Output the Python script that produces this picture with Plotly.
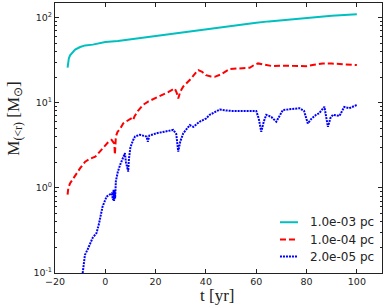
import plotly.graph_objects as go

t_c = [-15, -14.8, -14.5, -14, -13, -12, -10, -8, -5, -2, 0, 5, 10, 15, 20, 25, 30, 35, 40, 45, 50, 55, 60, 65, 70, 75, 80, 85, 90, 95, 100]
m_c = [25.7, 30, 33, 36, 39, 42, 45, 47, 48, 49.5, 51.5, 53, 55.5, 57.5, 60, 63, 66, 69.5, 73, 76, 79.5, 83, 86.5, 90, 93, 96, 99, 102, 105, 107, 109]

t_r = [-15, -14.7, -14, -12, -10, -8, -6, -4, -2, -0.8, 1, 2.5, 3.2, 3.6, 3.8, 4.0, 4.2, 4.8, 6, 7.1, 9, 10.5, 11.1, 11.6, 13, 15, 17, 19, 21, 23, 25, 27.6, 28.4, 29, 29.8, 31, 32.3, 34, 36, 37, 38.5, 40, 42, 43.5, 46, 49.4, 53, 57.4, 59, 60.7, 63, 66.6, 70, 73.3, 77, 79.9, 83, 86.5, 90, 93.1, 96, 100]
m_r = [0.83, 1.0, 1.13, 1.4, 1.7, 2.03, 2.2, 2.32, 2.7, 3.04, 3.4, 3.65, 3.4, 3.3, 2.45, 3.2, 4.0, 4.5, 5.0, 5.7, 6.2, 6.6, 6.3, 6.9, 8.0, 9.4, 10.3, 11, 11.6, 12.3, 13.3, 14.7, 13.0, 11.2, 13.5, 15.5, 16.8, 19, 22.5, 24.1, 23.0, 21, 20.3, 20.1, 21.5, 24.8, 25.2, 25.7, 27.5, 28.9, 28.0, 26.8, 27.2, 27, 26.6, 26.8, 27.8, 28.9, 28.8, 28.5, 28.0, 27.6]

t_b = [-9, -8.1, -7, -6.1, -5, -3.5, -2.5, -1.1, 0.5, 2.5, 3.1, 3.3, 3.5, 3.7, 3.9, 4.2, 5, 6, 7, 7.8, 8.2, 8.7, 9.1, 9.4, 10, 11, 11.8, 13.7, 15, 16.4, 16.9, 17.5, 20.3, 23, 25, 27, 28.2, 29, 29.8, 31, 33.6, 35, 37.5, 40, 41.5, 43.5, 45.5, 48, 50, 53.4, 57, 60, 61, 62, 63, 64, 66, 68, 70.6, 74, 77.2, 79, 80.5, 82, 83.8, 85, 87.1, 88.5, 89.5, 90.5, 93.1, 95, 97, 100]
m_b = [0.1, 0.163, 0.19, 0.224, 0.26, 0.294, 0.38, 0.6, 0.79, 0.86, 0.72, 0.95, 0.7, 0.93, 0.75, 1.2, 1.55, 1.9, 2.25, 2.55, 2.0, 1.7, 1.55, 2.2, 3.0, 3.6, 4.0, 4.2, 4.1, 4.0, 3.48, 4.1, 4.37, 4.5, 4.6, 4.78, 4.3, 2.66, 3.5, 4.37, 5.46, 5.2, 5.97, 6.5, 7.2, 7.8, 8.3, 8.1, 8.0, 8.0, 8.0, 8.0, 6.5, 4.56, 6.0, 7.2, 6.8, 5.97, 8.2, 8.4, 8.6, 8.0, 5.7, 6.5, 7.2, 7.5, 8.95, 5.2, 6.6, 7.2, 7.0, 8.9, 8.6, 9.4]

labels = ["1.0e-03 pc", "1.0e-04 pc", "2.0e-05 pc"]
colors = ["#00BFBF", "#FF0000", "#0000FF"]
dashes = ["solid", "6px,3px", "2px,1px"]
x_ticks = [-20, 0, 20, 40, 60, 80, 100]
y_ticks = [0.1, 1, 10, 100]
y_ticktext = ["10<sup>-1</sup>", "10<sup>0</sup>", "10<sup>1</sup>", "10<sup>2</sup>"]
y_minor = [m * d for d in (0.1, 1, 10, 100) for m in range(2, 10)]

fig = go.Figure()
for t, m, name, c, d in zip([t_c, t_r, t_b], [m_c, m_r, m_b], labels, colors, dashes):
    fig.add_trace(go.Scatter(x=t, y=m, mode="lines", name=name,
                             line=dict(color=c, width=2, dash=d), showlegend=False))

axis_common = dict(showline=True, linecolor="#222", linewidth=1, mirror="allticks",
                   ticks="inside", ticklen=4, tickcolor="#222", showgrid=False,
                   zeroline=False, tickfont=dict(family="DejaVu Sans", size=9.5, color="#222"))

fig.update_layout(
    width=390, height=307,
    margin=dict(l=55, r=8, t=3, b=34),
    paper_bgcolor="white", plot_bgcolor="white",
    xaxis=dict(range=[-20, 110], tickvals=x_ticks, **axis_common),
    yaxis=dict(type="log", range=[-1, 2.17], tickvals=y_ticks, ticktext=y_ticktext,
               minor=dict(ticks="inside", ticklen=2, tickcolor="#222", tickvals=y_minor),
               **axis_common),
    showlegend=False,
)

# axis titles
fig.add_annotation(text="t [yr]", xref="paper", yref="paper", x=0.495, y=-0.085,
                   xanchor="center", yanchor="middle", showarrow=False,
                   font=dict(family="Liberation Serif", size=17, color="#222"))
fig.add_annotation(text="M<sub>(<r)</sub> [M<sub>⊙</sub>]", xref="paper", yref="paper",
                   x=-0.125, y=0.572, xanchor="center", yanchor="middle", textangle=-90,
                   showarrow=False, font=dict(family="Liberation Serif", size=17, color="#222"))

# legend (manual, lower right, no frame)
leg_y = [0.188, 0.124, 0.061]
for name, c, d, yy in zip(labels, colors, dashes, leg_y):
    fig.add_shape(type="line", xref="paper", yref="paper", x0=0.688, x1=0.743, y0=yy, y1=yy,
                  line=dict(color=c, width=2, dash=d))
    fig.add_annotation(text=name, xref="paper", yref="paper", x=0.775, y=yy,
                       xanchor="left", yanchor="middle", showarrow=False,
                       font=dict(family="DejaVu Sans", size=12, color="#222"))

fig.write_html("out.html", config={"displayModeBar": False},
               post_script="document.body.style.margin='0';document.body.style.overflow='hidden';")
